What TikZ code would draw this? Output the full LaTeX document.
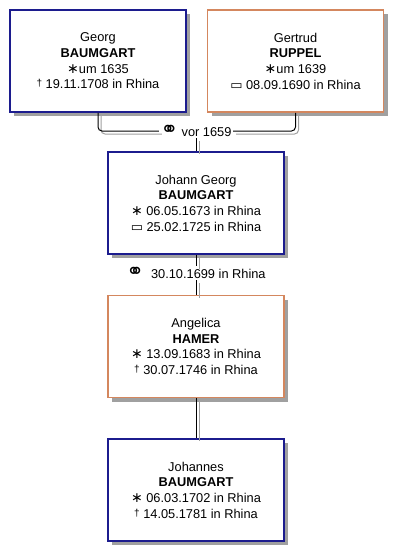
\documentclass[tikz,border=0pt]{standalone}
\usepackage{fontspec}
\setmainfont{Liberation Sans}
\newfontfamily\symfont{DejaVu Sans}
\usepackage{xcolor}
\usepackage{tikz}
\usetikzlibrary{positioning,shadows}
\definecolor{mMale}{HTML}{1C1C8E}
\definecolor{mFemale}{HTML}{D4875E}
\definecolor{mShade}{HTML}{A0A0A0}
\newcommand{\born}{{\symfont\fontsize{14}{14}\selectfont ∗}}
\newcommand{\died}{\raisebox{2pt}{\fontsize{10}{10}\selectfont †}}
\newcommand{\buried}{{\symfont\fontsize{13}{13}\selectfont ▭}}
\newcommand{\wed}{{\symfont\fontsize{21}{15}\selectfont ⚭}}

\begin{document}
\begin{tikzpicture}[
  x=1pt, y=-1pt, font=\fontsize{12.8}{15.7}\selectfont,
  person/.style={draw, line width=1.5pt, fill=white, align=center, inner sep=0pt,
    minimum width=176pt, minimum height=102pt,
    drop shadow={shadow xshift=4pt, shadow yshift=-4pt, fill=mShade, opacity=1}},
  male/.style={person, draw=mMale}, female/.style={person, draw=mFemale},
  famline/.style={line width=1pt, rounded corners=4pt,
    preaction={draw, mShade, line width=1pt, transform canvas={xshift=3pt, yshift=-3pt}}},
  wedlabel/.style={fill=white, inner sep=1.5pt}]
\useasboundingbox (0,0) rectangle (404,558);
\node[male] (georg) at (98,61) {Georg\\\textbf{BAUMGART}\\\born um 1635\\\died\ 19.11.1708 in Rhina};
\node[female, right=20pt of georg] (gertrud) {Gertrud\\\textbf{RUPPEL}\\\born um 1639\\\buried\ 08.09.1690 in Rhina};
\node[wedlabel] (wed1) at (196,131) {\wed\ vor 1659};
\node[male] (johann) at (196,203) {Johann Georg\\\textbf{BAUMGART}\\\born\ 06.05.1673 in Rhina\\\buried\ 25.02.1725 in Rhina};
\node[female, below=40pt of johann] (angelica) {Angelica\\\textbf{HAMER}\\\born\ 13.09.1683 in Rhina\\\died\ 30.07.1746 in Rhina};
\node[male, below=40pt of angelica] (johannes) {Johannes\\\textbf{BAUMGART}\\\born\ 06.03.1702 in Rhina\\\died\ 14.05.1781 in Rhina};
\node[wedlabel] (wed2) at (196,273) {\wed\ \ 30.10.1699 in Rhina};
% family lines
\draw[famline] (georg.south) |- (wed1.west);
\draw[famline] (gertrud.south) |- (wed1.east);
\draw[famline] (wed1.south) -- (johann.north);
\draw[famline] (johann.south) -- (wed2.north);
\draw[famline] (wed2.south) -- (angelica.north);
\draw[famline] (angelica.south) -- (johannes.north);
\end{tikzpicture}
\end{document}
